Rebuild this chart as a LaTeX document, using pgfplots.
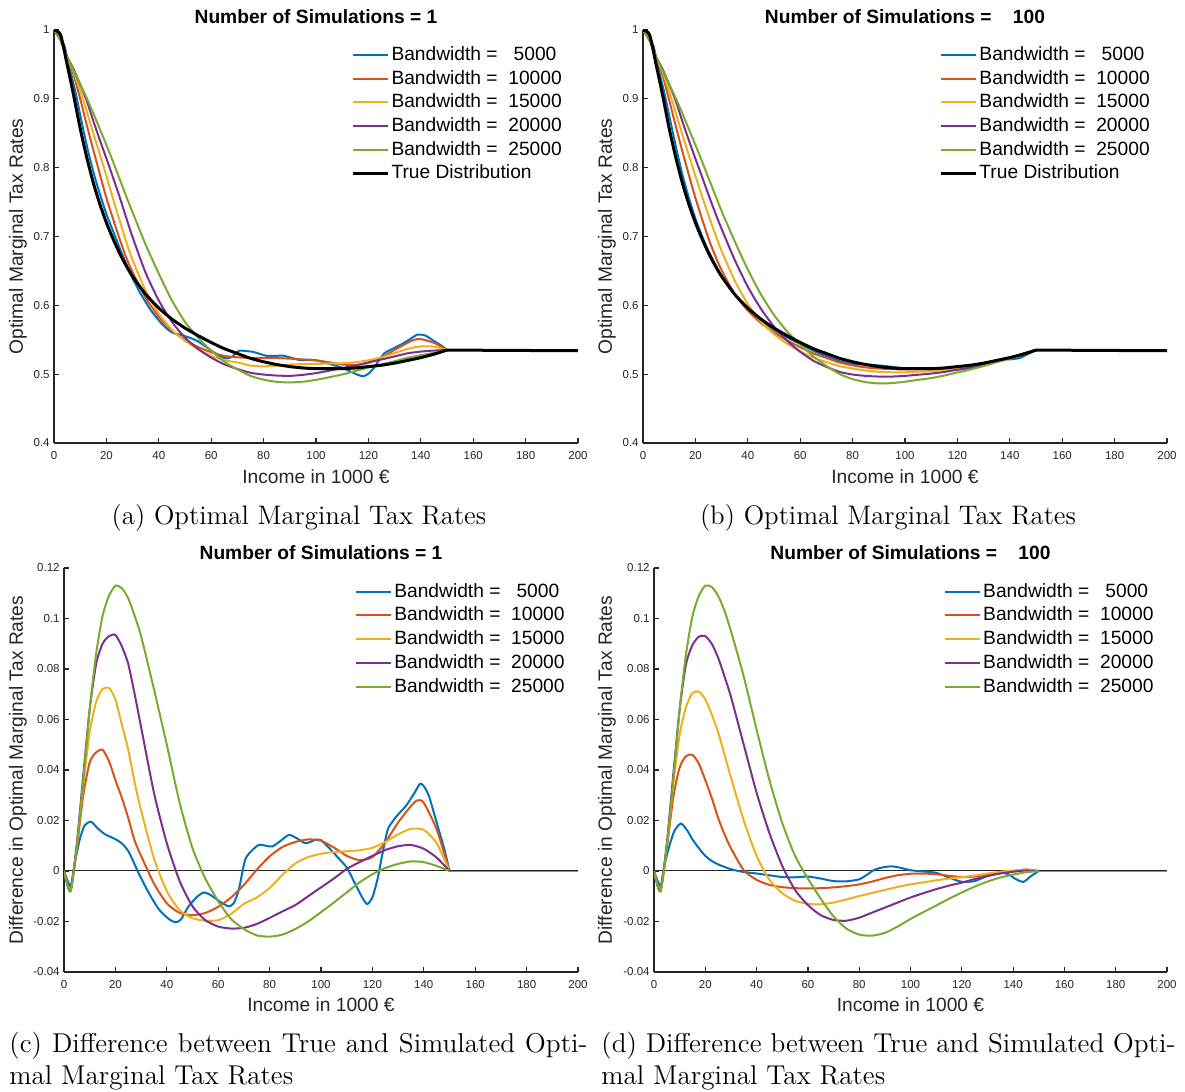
\documentclass[border=0pt]{standalone}
\usepackage{pgfplots}
\pgfplotsset{compat=1.18}
\usepackage{fontspec}
\setsansfont{Liberation Sans}
\definecolor{mblue}{RGB}{0,114,189}
\definecolor{morange}{RGB}{217,83,25}
\definecolor{myellow}{RGB}{237,177,32}
\definecolor{mpurple}{RGB}{126,47,142}
\definecolor{mgreen}{RGB}{119,172,48}
\definecolor{axgray}{RGB}{38,38,38}
\pgfplotsset{
 mystyle/.style={
  scale only axis,
  axis x line*=bottom, axis y line*=left,
  axis line style={axgray, line width=0.6pt},
  every tick/.style={axgray, line width=0.6pt},
  major tick length=2.5pt,
  tick align=inside,
  xmin=0,xmax=200,
  xtick={0,20,...,200},
  xticklabels={0,20,40,60,80,100,120,140,160,180,200},
  ticklabel style={font=\sffamily\fontsize{5.75}{6.5}\selectfont, text=axgray},
  xticklabel style={anchor=center, yshift=-6.5pt},
  yticklabel style={anchor=east, inner sep=0pt, xshift=-2pt},
  label style={font=\sffamily\fontsize{9.6}{11}\selectfont, text=axgray},
  every axis title shift=0pt,
  title style={font=\sffamily\bfseries\fontsize{9.6}{11}\selectfont, at={(axis description cs:0.5,1)}, anchor=center},
  xlabel={Income in 1000 €},
  legend style={draw=none, fill=none, font=\sffamily\fontsize{9.6}{11}\selectfont, anchor=north west, inner sep=0pt, row sep=1.4pt, nodes={inner sep=1pt}},
  legend cell align=left,
  legend image code/.code={\draw[#1] (0pt,0pt) -- (17.5pt,0pt);},
  every axis plot/.append style={line width=1pt, smooth, tension=0.4},
 },
 toprow/.style={ymin=0.4, ymax=1, ytick={0.4,0.5,0.6,0.7,0.8,0.9,1}, yticklabels={0.4,0.5,0.6,0.7,0.8,0.9,1},
  ylabel={Optimal Marginal Tax Rates}, title style={yshift=6.5pt}, xlabel style={at={(axis description cs:0.5,0)},anchor=center,yshift=-17pt}},
 botrow/.style={ymin=-0.04, ymax=0.12, ytick={-0.04,-0.02,0,0.02,0.04,0.06,0.08,0.1,0.12}, yticklabels={-0.04,-0.02,0,0.02,0.04,0.06,0.08,0.1,0.12},
  ylabel={Difference in Optimal Marginal Tax Rates}, title style={yshift=7.5pt}, xlabel style={at={(axis description cs:0.5,0)},anchor=center,yshift=-16.5pt}},
}
\begin{document}
\begin{tikzpicture}
\useasboundingbox (0,0) rectangle (592.5pt,546pt);
% ---------------- (a)
\begin{axis}[mystyle, toprow, at={(27pt,324.5pt)}, anchor=south west, width=262pt, height=206.5pt,
  title={Number of Simulations = 1},
  ylabel style={at={(axis description cs:-0.0687,0.5)}, anchor=center},
  legend style={at={(axis description cs:0.567,0.966)}}]
\addplot[mblue] coordinates {(0,1.000) (2.5,0.987) (4,0.977) (6,0.944) (8,0.913) (10.5,0.8675) (13,0.824) (16,0.7805) (20,0.7326) (23,0.7035) (25.5,0.679) (29,0.6472) (33,0.6173) (37,0.5927) (41,0.5738) (43.5,0.5647) (45.5,0.5598) (48.5,0.557) (52,0.5526) (54.5,0.5485) (57,0.5425) (60.5,0.533) (64,0.525) (66,0.5228) (68,0.5253) (70.5,0.5338) (73.5,0.5335) (76,0.5324) (78.5,0.5295) (81,0.5267) (84,0.5265) (87.5,0.5268) (90.5,0.5238) (94,0.5204) (98,0.5208) (100,0.5202) (103,0.5173) (106,0.514) (110,0.5094) (113,0.5041) (116,0.499) (118,0.4969) (120,0.5006) (122,0.5086) (124,0.5199) (126,0.5301) (128,0.5346) (130,0.5384) (133,0.5441) (136,0.5511) (138.5,0.5573) (140,0.5576) (142,0.5557) (145,0.5482) (148,0.5412) (150,0.535)};
\addlegendentry{Bandwidth =\ \ \ 5000}
\addplot[morange] coordinates {(0,1.000) (2.5,0.985) (5,0.959) (7.5,0.935) (10,0.900) (12.5,0.862) (15,0.826) (17.5,0.7905) (20,0.756) (22.5,0.726) (25,0.697) (27.5,0.670) (30,0.648) (35,0.611) (40,0.5832) (45,0.5634) (50,0.5495) (55,0.5394) (60,0.5318) (65,0.5265) (70,0.5245) (75,0.5235) (80,0.5238) (85,0.5235) (90,0.5225) (95,0.5215) (100,0.520) (105,0.5173) (110,0.514) (115,0.5133) (120,0.5165) (125,0.5243) (130,0.5352) (135,0.5457) (137.5,0.550) (140,0.551) (145,0.5455) (150,0.535)};
\addlegendentry{Bandwidth =\ \ 10000}
\addplot[myellow] coordinates {(0,1.000) (2.5,0.985) (5,0.960) (7.5,0.939) (10,0.912) (12.5,0.882) (15,0.850) (17.5,0.8195) (20,0.788) (22.5,0.755) (25,0.724) (27.5,0.693) (30,0.666) (35,0.621) (40,0.588) (45,0.5645) (50,0.5483) (55,0.5363) (60,0.5265) (65,0.520) (70,0.517) (75,0.5125) (80,0.5112) (85,0.5125) (90,0.514) (95,0.5145) (100,0.5148) (105,0.5155) (110,0.5158) (115,0.5172) (120,0.5202) (125,0.5245) (130,0.5305) (135,0.5367) (140,0.5403) (145,0.540) (150,0.535)};
\addlegendentry{Bandwidth =\ \ 15000}
\addplot[mpurple] coordinates {(0,1.000) (2.5,0.985) (5,0.961) (7.5,0.943) (10,0.921) (12.5,0.897) (15,0.868) (17.5,0.840) (20,0.8135) (22.5,0.786) (25,0.758) (27.5,0.728) (30,0.699) (35,0.647) (40,0.607) (45,0.576) (50,0.553) (55,0.5365) (60,0.524) (65,0.5142) (70,0.5075) (75,0.502) (80,0.4994) (85,0.498) (90,0.4975) (95,0.499) (100,0.5015) (105,0.505) (110,0.5088) (115,0.5125) (120,0.517) (125,0.5213) (130,0.5258) (135,0.5303) (140,0.5328) (145,0.5343) (150,0.535)};
\addlegendentry{Bandwidth =\ \ 20000}
\addplot[mgreen] coordinates {(0,1.000) (2.5,0.985) (5,0.960) (7.5,0.941) (10,0.921) (12.5,0.901) (15,0.879) (17.5,0.856) (20,0.833) (22.5,0.809) (25,0.784) (27.5,0.759) (30,0.735) (35,0.688) (40,0.646) (45,0.607) (50,0.576) (55,0.553) (60,0.534) (65,0.518) (70,0.507) (75,0.4975) (80,0.492) (85,0.4888) (90,0.488) (95,0.489) (100,0.4917) (105,0.4955) (110,0.4995) (115,0.5045) (120,0.5097) (125,0.5142) (130,0.5188) (135,0.5238) (140,0.5275) (145,0.531) (150,0.535)};
\addlegendentry{Bandwidth =\ \ 25000}
\addplot[black, line width=1.5pt] coordinates {(0,1.000) (2.5,0.993) (5,0.950) (7.5,0.905) (10,0.857) (12.5,0.815) (15,0.778) (17.5,0.747) (20,0.720) (22.5,0.697) (25,0.676) (27.5,0.658) (30,0.642) (35,0.616) (40,0.596) (45,0.580) (50,0.567) (55,0.556) (60,0.546) (65,0.537) (70,0.530) (75,0.523) (80,0.518) (85,0.514) (90,0.511) (95,0.509) (100,0.508) (105,0.508) (110,0.508) (115,0.509) (120,0.511) (125,0.513) (130,0.516) (135,0.520) (140,0.524) (145,0.529) (150,0.535)};
\addlegendentry{True Distribution}
\addplot[black, line width=1.5pt, sharp plot, forget plot] coordinates {(150,0.535) (200,0.534)};
\end{axis}
% ---------------- (b)
\begin{axis}[mystyle, toprow, at={(321.5pt,324.5pt)}, anchor=south west, width=262pt, height=206.5pt,
  title={Number of Simulations =\ \ \ \ 100},
  ylabel style={at={(axis description cs:-0.0687,0.5)}, anchor=center},
  legend style={at={(axis description cs:0.565,0.966)}}]
\addplot[mblue] coordinates {(0,1.000) (2.5,0.987) (4,0.977) (6,0.942) (8,0.911) (10.5,0.8668) (13,0.823) (15,0.7905) (17.5,0.756) (20,0.726) (22.5,0.701) (25,0.6786) (30,0.6427) (35,0.6156) (40,0.595) (45,0.5783) (50,0.5646) (55,0.5535) (60,0.5438) (65,0.534) (70,0.526) (75,0.5189) (80,0.5147) (83,0.5141) (86,0.5139) (90,0.5126) (93,0.5116) (96,0.5101) (100,0.5083) (105,0.5078) (110,0.5073) (115,0.5064) (120,0.5067) (125,0.509) (130,0.514) (135,0.5193) (138,0.5212) (141,0.5218) (144,0.5237) (147,0.5294) (150,0.535)};
\addlegendentry{Bandwidth =\ \ \ 5000}
\addplot[morange] coordinates {(0,1.000) (2.5,0.985) (5,0.959) (7.5,0.934) (10,0.898) (12.5,0.8605) (15,0.824) (17.5,0.7895) (20,0.756) (22.5,0.726) (25,0.697) (27.5,0.6725) (30,0.651) (35,0.6163) (40,0.5925) (45,0.5745) (50,0.5606) (55,0.5492) (60,0.5391) (65,0.5302) (70,0.5235) (75,0.517) (80,0.5127) (85,0.5098) (90,0.5082) (95,0.5073) (100,0.5069) (105,0.507) (110,0.5067) (115,0.5071) (120,0.5086) (125,0.5108) (130,0.5146) (135,0.5194) (140,0.524) (145,0.5296) (150,0.535)};
\addlegendentry{Bandwidth =\ \ 10000}
\addplot[myellow] coordinates {(0,1.000) (2.5,0.985) (5,0.960) (7.5,0.939) (10,0.911) (12.5,0.880) (15,0.8485) (17.5,0.818) (20,0.788) (22.5,0.759) (25,0.731) (27.5,0.704) (30,0.679) (35,0.636) (40,0.602) (45,0.5765) (50,0.5582) (55,0.5442) (60,0.533) (65,0.5238) (70,0.5175) (75,0.5117) (80,0.5081) (85,0.5053) (90,0.5035) (95,0.5027) (100,0.5027) (105,0.5035) (110,0.5043) (115,0.506) (120,0.5085) (125,0.5112) (130,0.515) (135,0.5197) (140,0.5242) (145,0.5295) (150,0.535)};
\addlegendentry{Bandwidth =\ \ 15000}
\addplot[mpurple] coordinates {(0,1.000) (2.5,0.985) (5,0.961) (7.5,0.943) (10,0.921) (12.5,0.897) (15,0.8675) (17.5,0.8398) (20,0.813) (22.5,0.787) (25,0.7605) (27.5,0.735) (30,0.711) (35,0.666) (40,0.627) (45,0.595) (50,0.569) (55,0.5485) (60,0.5325) (65,0.5195) (70,0.5106) (75,0.5033) (80,0.4995) (85,0.4975) (90,0.4965) (95,0.4965) (100,0.4975) (105,0.4992) (110,0.5008) (115,0.5032) (120,0.5064) (125,0.5098) (130,0.514) (135,0.519) (140,0.5237) (145,0.5292) (150,0.535)};
\addlegendentry{Bandwidth =\ \ 20000}
\addplot[mgreen] coordinates {(0,1.000) (2.5,0.985) (5,0.960) (7.5,0.941) (10,0.921) (12.5,0.901) (15,0.879) (17.5,0.856) (20,0.833) (22.5,0.8095) (25,0.785) (27.5,0.761) (30,0.737) (35,0.693) (40,0.652) (45,0.616) (50,0.586) (55,0.562) (60,0.543) (65,0.526) (70,0.512) (75,0.5002) (80,0.4928) (85,0.4884) (90,0.4865) (95,0.487) (100,0.489) (105,0.4917) (110,0.4943) (115,0.498) (120,0.5025) (125,0.5068) (130,0.5118) (135,0.5174) (140,0.5226) (145,0.5285) (150,0.535)};
\addlegendentry{Bandwidth =\ \ 25000}
\addplot[black, line width=1.5pt] coordinates {(0,1.000) (2.5,0.993) (5,0.950) (7.5,0.905) (10,0.857) (12.5,0.815) (15,0.778) (17.5,0.747) (20,0.720) (22.5,0.697) (25,0.676) (27.5,0.658) (30,0.642) (35,0.616) (40,0.596) (45,0.580) (50,0.567) (55,0.556) (60,0.546) (65,0.537) (70,0.530) (75,0.523) (80,0.518) (85,0.514) (90,0.511) (95,0.509) (100,0.508) (105,0.508) (110,0.508) (115,0.509) (120,0.511) (125,0.513) (130,0.516) (135,0.520) (140,0.524) (145,0.529) (150,0.535)};
\addlegendentry{True Distribution}
\addplot[black, line width=1.5pt, sharp plot, forget plot] coordinates {(150,0.535) (200,0.534)};
\end{axis}
% ---------------- (c)
\begin{axis}[mystyle, botrow, at={(32pt,60pt)}, anchor=south west, width=257pt, height=202pt,
  title={Number of Simulations = 1},
  ylabel style={at={(axis description cs:-0.0895,0.5)}, anchor=center},
  legend style={at={(axis description cs:0.566,0.968)}}]
\addplot[axgray, line width=0.5pt, sharp plot, forget plot] coordinates {(0,0) (200,0)};
\addplot[mblue] coordinates {(0,0) (2.5,-0.006) (4,0.002) (6,0.012) (8,0.018) (10.5,0.0195) (13,0.017) (16,0.0145) (20,0.0126) (23,0.0105) (25.5,0.007) (29,-0.0008) (33,-0.0087) (37,-0.0153) (41,-0.0192) (43.5,-0.0203) (45.5,-0.0192) (48.5,-0.014) (52,-0.0100) (54.5,-0.0085) (57,-0.0095) (60.5,-0.012) (64,-0.014) (66,-0.0128) (68,-0.0075) (70.5,0.0045) (73.5,0.0085) (76,0.0104) (78.5,0.0100) (81,0.0097) (84,0.0117) (87.5,0.0143) (90.5,0.013) (94,0.011) (98,0.0124) (100,0.0122) (103,0.0093) (106,0.006) (110,0.0014) (113,-0.0045) (116,-0.0104) (118,-0.0131) (120,-0.0104) (122,-0.0032) (124,0.0073) (126,0.0165) (128,0.0198) (130,0.0224) (133,0.0257) (136,0.0303) (138.5,0.0345) (140,0.0336) (142,0.0297) (145,0.0192) (148,0.0086) (150,0)};
\addlegendentry{Bandwidth =\ \ \ 5000}
\addplot[morange] coordinates {(0,0) (2.5,-0.008) (5,0.009) (7.5,0.030) (10,0.043) (12.5,0.047) (15,0.048) (17.5,0.0435) (20,0.036) (22.5,0.029) (25,0.021) (27.5,0.012) (30,0.006) (35,-0.005) (40,-0.0128) (45,-0.0166) (50,-0.0175) (55,-0.0166) (60,-0.0142) (65,-0.0105) (70,-0.0055) (75,0.0005) (80,0.0058) (85,0.0095) (90,0.0115) (95,0.0125) (100,0.012) (105,0.0093) (110,0.006) (115,0.0043) (120,0.0055) (125,0.0113) (130,0.0192) (135,0.0257) (137.5,0.028) (140,0.027) (145,0.0165) (150,0)};
\addlegendentry{Bandwidth =\ \ 10000}
\addplot[myellow] coordinates {(0,0) (2.5,-0.008) (5,0.010) (7.5,0.034) (10,0.055) (12.5,0.067) (15,0.072) (17.5,0.0725) (20,0.068) (22.5,0.058) (25,0.048) (27.5,0.035) (30,0.024) (35,0.005) (40,-0.008) (45,-0.0155) (50,-0.0187) (55,-0.0197) (60,-0.0195) (65,-0.017) (70,-0.013) (75,-0.0105) (80,-0.0068) (85,-0.0015) (90,0.003) (95,0.0055) (100,0.0068) (105,0.0075) (110,0.0078) (115,0.0082) (120,0.0092) (125,0.0115) (130,0.0145) (135,0.0167) (140,0.0163) (145,0.011) (150,0)};
\addlegendentry{Bandwidth =\ \ 15000}
\addplot[mpurple] coordinates {(0,0) (2.5,-0.008) (5,0.011) (7.5,0.038) (10,0.064) (12.5,0.082) (15,0.090) (17.5,0.093) (20,0.0935) (22.5,0.089) (25,0.082) (27.5,0.070) (30,0.057) (35,0.031) (40,0.011) (45,-0.004) (50,-0.014) (55,-0.0195) (60,-0.022) (65,-0.0228) (70,-0.0225) (75,-0.021) (80,-0.0186) (85,-0.016) (90,-0.0135) (95,-0.010) (100,-0.0065) (105,-0.003) (110,0.0008) (115,0.0035) (120,0.006) (125,0.0083) (130,0.0098) (135,0.0103) (140,0.0088) (145,0.0053) (150,0)};
\addlegendentry{Bandwidth =\ \ 20000}
\addplot[mgreen] coordinates {(0,0) (2.5,-0.008) (5,0.010) (7.5,0.036) (10,0.064) (12.5,0.086) (15,0.101) (17.5,0.109) (20,0.113) (22.5,0.112) (25,0.108) (27.5,0.101) (30,0.093) (35,0.072) (40,0.050) (45,0.027) (50,0.009) (55,-0.003) (60,-0.012) (65,-0.019) (70,-0.023) (75,-0.0255) (80,-0.026) (85,-0.0252) (90,-0.023) (95,-0.020) (100,-0.0163) (105,-0.0125) (110,-0.0085) (115,-0.0045) (120,-0.0013) (125,0.0012) (130,0.0028) (135,0.0038) (140,0.0035) (145,0.002) (150,0)};
\addlegendentry{Bandwidth =\ \ 25000}
\addplot[mgreen, sharp plot, forget plot] coordinates {(150,0) (200,0)};
\addplot[axgray, line width=0.5pt, sharp plot, forget plot] coordinates {(150,0) (200,0)};
\end{axis}
% ---------------- (d)
\begin{axis}[mystyle, botrow, at={(327pt,60pt)}, anchor=south west, width=256.5pt, height=202pt,
  title={Number of Simulations =\ \ \ \ 100},
  ylabel style={at={(axis description cs:-0.0916,0.5)}, anchor=center},
  legend style={at={(axis description cs:0.565,0.968)}}]
\addplot[axgray, line width=0.5pt, sharp plot, forget plot] coordinates {(0,0) (200,0)};
\addplot[mblue] coordinates {(0,0) (2.5,-0.006) (4,0.002) (6,0.010) (8,0.016) (10.5,0.0188) (13,0.016) (15,0.0125) (17.5,0.009) (20,0.006) (22.5,0.004) (25,0.0026) (30,0.0007) (35,-0.0004) (40,-0.001) (45,-0.0017) (50,-0.0024) (55,-0.0025) (60,-0.0022) (65,-0.003) (70,-0.004) (75,-0.0041) (80,-0.0033) (83,-0.0015) (86,0.0005) (90,0.0016) (93,0.0018) (96,0.0013) (100,0.0003) (105,-0.0002) (110,-0.0007) (115,-0.0026) (120,-0.0043) (125,-0.004) (130,-0.002) (135,-0.0007) (138,-0.0012) (141,-0.0032) (144,-0.0043) (147,-0.002) (150,0)};
\addlegendentry{Bandwidth =\ \ \ 5000}
\addplot[morange] coordinates {(0,0) (2.5,-0.008) (5,0.009) (7.5,0.029) (10,0.041) (12.5,0.0455) (15,0.046) (17.5,0.0425) (20,0.036) (22.5,0.029) (25,0.021) (27.5,0.0145) (30,0.009) (35,0.0003) (40,-0.0035) (45,-0.0055) (50,-0.0064) (55,-0.0068) (60,-0.0069) (65,-0.0068) (70,-0.0065) (75,-0.006) (80,-0.0053) (85,-0.0042) (90,-0.0028) (95,-0.0017) (100,-0.0011) (105,-0.001) (110,-0.0013) (115,-0.0019) (120,-0.0024) (125,-0.0022) (130,-0.0014) (135,-0.0006) (140,0.0) (145,0.0006) (150,0)};
\addlegendentry{Bandwidth =\ \ 10000}
\addplot[myellow] coordinates {(0,0) (2.5,-0.008) (5,0.010) (7.5,0.034) (10,0.054) (12.5,0.065) (15,0.0705) (17.5,0.071) (20,0.068) (22.5,0.062) (25,0.055) (27.5,0.046) (30,0.037) (35,0.020) (40,0.006) (45,-0.0035) (50,-0.0088) (55,-0.0118) (60,-0.013) (65,-0.0132) (70,-0.0125) (75,-0.0113) (80,-0.0099) (85,-0.0087) (90,-0.0075) (95,-0.0063) (100,-0.0053) (105,-0.0045) (110,-0.0037) (115,-0.003) (120,-0.0025) (125,-0.0018) (130,-0.001) (135,-0.0003) (140,0.0002) (145,0.0005) (150,0)};
\addlegendentry{Bandwidth =\ \ 15000}
\addplot[mpurple] coordinates {(0,0) (2.5,-0.008) (5,0.011) (7.5,0.038) (10,0.064) (12.5,0.082) (15,0.0895) (17.5,0.0928) (20,0.093) (22.5,0.090) (25,0.0845) (27.5,0.077) (30,0.069) (35,0.050) (40,0.031) (45,0.015) (50,0.002) (55,-0.0075) (60,-0.0135) (65,-0.0175) (70,-0.0194) (75,-0.0197) (80,-0.0185) (85,-0.0165) (90,-0.0145) (95,-0.0125) (100,-0.0105) (105,-0.0088) (110,-0.0072) (115,-0.0058) (120,-0.0046) (125,-0.0032) (130,-0.002) (135,-0.001) (140,-0.0003) (145,0.0002) (150,0)};
\addlegendentry{Bandwidth =\ \ 20000}
\addplot[mgreen] coordinates {(0,0) (2.5,-0.008) (5,0.010) (7.5,0.036) (10,0.064) (12.5,0.086) (15,0.101) (17.5,0.109) (20,0.113) (22.5,0.1125) (25,0.109) (27.5,0.103) (30,0.095) (35,0.077) (40,0.056) (45,0.036) (50,0.019) (55,0.006) (60,-0.003) (65,-0.011) (70,-0.018) (75,-0.0228) (80,-0.0252) (85,-0.0256) (90,-0.0245) (95,-0.022) (100,-0.019) (105,-0.0163) (110,-0.0137) (115,-0.011) (120,-0.0085) (125,-0.0062) (130,-0.0042) (135,-0.0026) (140,-0.0014) (145,-0.0005) (150,0)};
\addlegendentry{Bandwidth =\ \ 25000}
\addplot[mgreen, sharp plot, forget plot] coordinates {(150,0) (200,0)};
\addplot[axgray, line width=0.5pt, sharp plot, forget plot] coordinates {(150,0) (200,0)};
\end{axis}
% ---------------- captions
\node[anchor=base, font=\fontsize{13.4}{16}\selectfont] at (149.5pt,283.5pt) {(a) Optimal Marginal Tax Rates};
\node[anchor=base, font=\fontsize{13.4}{16}\selectfont] at (444pt,283.5pt) {(b) Optimal Marginal Tax Rates};
\node[anchor=base west, inner sep=0pt, font=\fontsize{13.6}{16}\selectfont] at (4.5pt,19.5pt) {\makebox[289pt][s]{(c) Difference between True and Simulated Opti-}};
\node[anchor=base west, inner sep=0pt, font=\fontsize{13.6}{16}\selectfont] at (4.5pt,3.5pt) {mal Marginal Tax Rates};
\node[anchor=base west, inner sep=0pt, font=\fontsize{13.6}{16}\selectfont] at (300.5pt,19.5pt) {\makebox[287pt][s]{(d) Difference between True and Simulated Opti-}};
\node[anchor=base west, inner sep=0pt, font=\fontsize{13.6}{16}\selectfont] at (300.5pt,3.5pt) {mal Marginal Tax Rates};
\end{tikzpicture}
\end{document}
